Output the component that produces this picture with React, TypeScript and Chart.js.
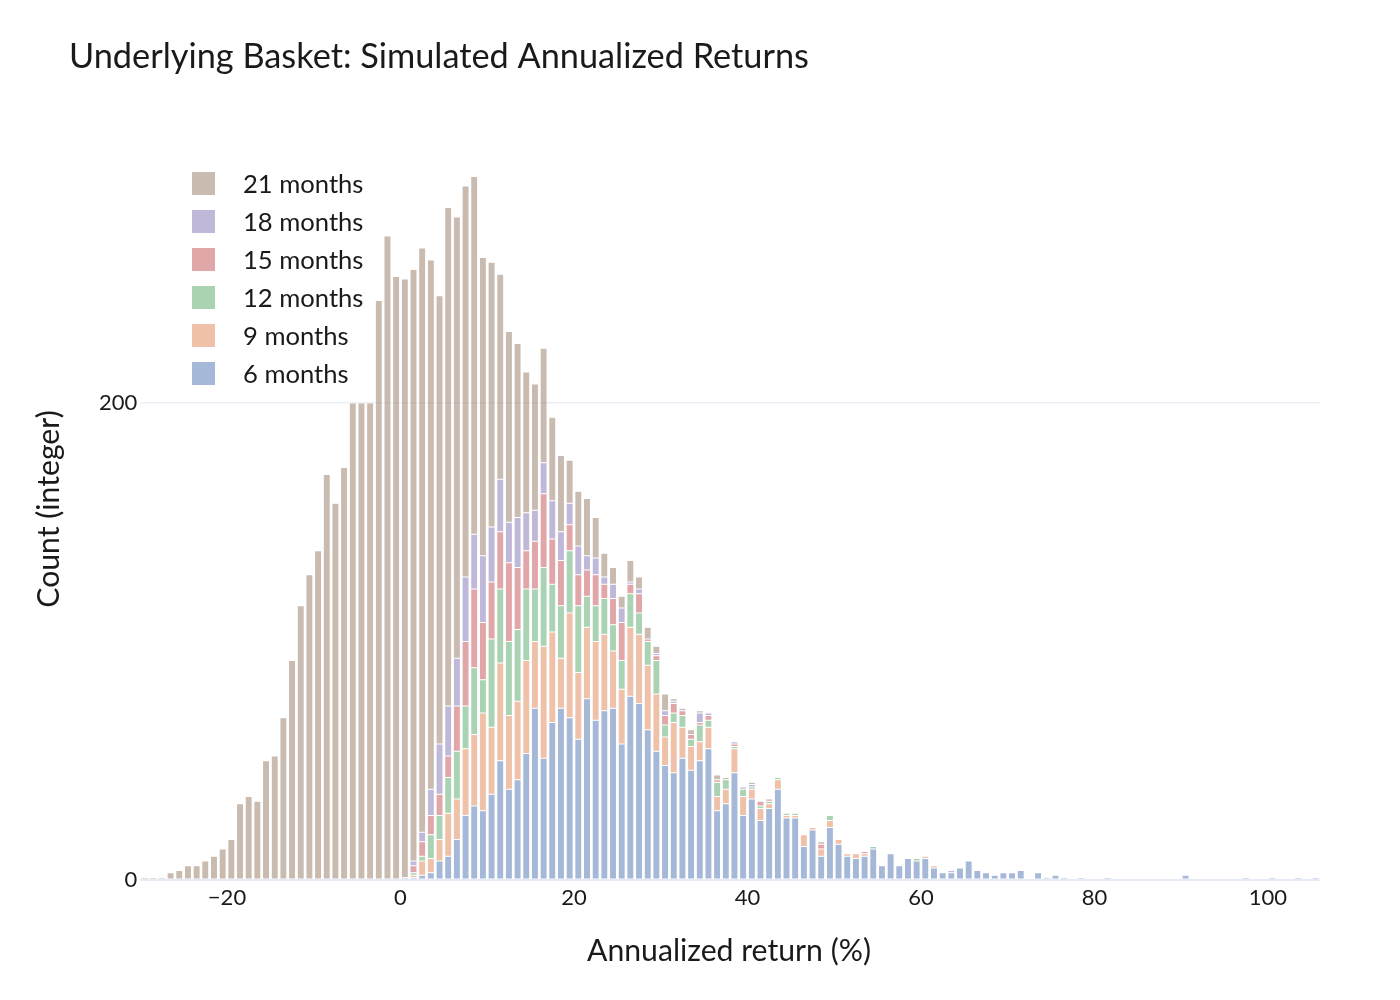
import { useEffect, useRef } from 'react';
import { Chart, ChartConfiguration, Plugin, registerables } from 'chart.js';

Chart.register(...registerables);

const TITLE = 'Underlying Basket: Simulated Annualized Returns';
const X_TITLE = 'Annualized return (%)';
const Y_TITLE = 'Count (integer)';
const FONT = 'Lato, "Noto Sans", sans-serif';

// histogram bins are 1 % wide; axis spans the outer bin edges
const BIN_WIDTH = 1;
const X_MIN = -30;
const X_MAX = 106;
const Y_MAX = 300;
const X_TICKS = [-20, 0, 20, 40, 60, 80, 100];
const Y_TICKS = [0, 200];

// counts per bin, each list starts at the bin centre given by its *_START
const M6_START = 1.5;
const M6 = [
  1, 2, 3, 8, 10, 17, 27, 31, 29, 36, 50, 38, 42, 53, 72, 51, 66, 72, 68, 59,
  76, 67, 71, 72, 57, 77, 74, 63, 54, 48, 45, 51, 46, 50, 55, 29, 32, 45, 27, 34,
  25, 30, 38, 26, 26, 14, 21, 10, 22, 15, 10, 9, 10, 13, 6, 11, 6, 9, 8, 9,
  5, 3, 3, 5, 8, 4, 3, 2, 3, 3, 4, 0, 3, 1, 2, 1, 0, 1, 0, 0,
  1, 0, 0, 0, 0, 0, 0, 0, 0, 2, 0, 0, 0, 0, 0, 0, 1, 0, 0, 1,
  0, 0, 1, 0, 1,
];

const M9_START = 1.5;
const M9 = [
  1, 6, 6, 9, 18, 17, 28, 30, 41, 28, 41, 31, 33, 39, 28, 47, 38, 21, 44, 28,
  30, 33, 32, 24, 23, 29, 29, 27, 24, 12, 21, 13, 10, 8, 9, 6, 6, 10, 8, 4,
  5, 2, 4, 1, 1, 5, 1, 3, 3, 2, 1, 2, 1, 0, 0, 0, 0, 0, 0, 1,
  1,
];

const M12_START = 1.5;
const M12 = [
  1, 2, 10, 10, 15, 20, 18, 28, 14, 37, 31, 31, 30, 30, 22, 33, 20, 22, 26, 28,
  13, 15, 15, 11, 12, 14, 9, 10, 14, 5, 4, 5, 3, 7, 3, 6, 4, 1, 3, 1,
  1, 1, 1, 1, 1, 0, 0, 0, 2, 0, 0, 0, 0, 1, 0, 0, 0, 0, 1,
];

const M15_START = 1.5;
const M15 = [
  3, 6, 8, 9, 9, 19, 27, 33, 24, 24, 24, 33, 26, 16, 20, 31, 19, 19, 11, 13,
  11, 13, 6, 11, 16, 4, 8, 1, 2, 4, 4, 2, 2, 1, 2, 1, 0, 1, 0, 0,
  2, 1, 0, 0, 0, 0, 0, 2, 0, 0, 0, 0, 1,
];

const M18_START = 0.5;
const M18 = [
  1, 2, 4, 11, 21, 21, 20, 27, 23, 28, 23, 22, 17, 21, 16, 13, 13, 16, 12, 9,
  12, 6, 7, 3, 6, 6, 1, 2, 0, 1, 2, 1, 1, 0, 4, 1, 0, 0, 1, 1,
  1, 0, 0, 0, 0, 0, 0, 0, 0, 0, 0, 0, 0, 0, 0, 0, 0, 0, 0, 0,
  0, 0, 0, 1,
];

const M21_START = -29.5;
const M21 = [
  1, 1, 1, 3, 4, 6, 6, 8, 10, 13, 17, 32, 35, 33, 50, 52, 68, 92, 115, 128,
  138, 170, 158, 173, 200, 200, 200, 243, 270, 253, 251, 248, 245, 222, 188, 209, 185, 164, 150, 125,
  111, 86, 80, 73, 59, 53, 48, 35, 32, 18, 23, 24, 17, 10, 7, 5, 9, 5, 5, 3,
  7, 1, 0, 2, 1, 0, 2, 1, 0, 0, 1, 0, 0, 0, 0, 0, 0, 0, 1,
];

const LABELS = ['6 months', '9 months', '12 months', '15 months', '18 months', '21 months'];
const COLORS = [
  'rgba(76, 114, 176, 0.5)',
  'rgba(221, 132, 82, 0.5)',
  'rgba(85, 168, 104, 0.5)',
  'rgba(196, 78, 82, 0.5)',
  'rgba(129, 114, 179, 0.5)',
  'rgba(147, 120, 96, 0.5)',
];

const toPoints = (start: number, counts: number[]) =>
  counts.map((y, i) => ({ x: start + i * BIN_WIDTH, y }));

const SERIES = [
  toPoints(M6_START, M6),
  toPoints(M9_START, M9),
  toPoints(M12_START, M12),
  toPoints(M15_START, M15),
  toPoints(M18_START, M18),
  toPoints(M21_START, M21),
];

// title, axis titles and the in-plot legend
const textPlugin: Plugin = {
  id: 'textOverlay',
  afterDraw(chart) {
    const ctx = chart.ctx;
    ctx.save();
    ctx.fillStyle = '#1a1a1a';

    ctx.font = `34.3px ${FONT}`;
    ctx.textAlign = 'left';
    ctx.textBaseline = 'alphabetic';
    ctx.fillText(TITLE, 69, 68);

    ctx.font = `30.2px ${FONT}`;
    ctx.textAlign = 'center';
    ctx.textBaseline = 'middle';
    ctx.fillText(X_TITLE, 729, 951);

    ctx.save();
    ctx.translate(49, 509);
    ctx.rotate(-Math.PI / 2);
    ctx.fillText(Y_TITLE, 0, 0);
    ctx.restore();

    // legend, top entry = last stacked series
    ctx.font = `25.6px ${FONT}`;
    ctx.textAlign = 'left';
    ctx.textBaseline = 'alphabetic';
    const items = chart.data.datasets.slice().reverse();
    items.forEach((ds, i) => {
      const top = 172 + i * 38;
      ctx.fillStyle = ds.backgroundColor as string;
      ctx.fillRect(192, top, 23, 23);
      ctx.fillStyle = '#1a1a1a';
      ctx.fillText(ds.label ?? '', 243, top + 21);
    });
    ctx.restore();
  },
};

export default function App() {
  const canvasRef = useRef<HTMLCanvasElement>(null);
  const chartRef = useRef<Chart | null>(null);

  useEffect(() => {
    document.body.style.margin = '0';
    if (!canvasRef.current) return;
    if (chartRef.current) chartRef.current.destroy();

    const config: ChartConfiguration = {
      type: 'bar',
      data: {
        datasets: SERIES.map((data, i) => ({
          label: LABELS[i],
          data,
          backgroundColor: COLORS[i],
          borderColor: '#ffffff',
          borderWidth: 0.5,
          borderSkipped: false,
          categoryPercentage: 0.8,
          barPercentage: 1,
        })),
      },
      options: {
        responsive: false,
        animation: false,
        layout: { padding: { top: 164.5, right: 80, left: 0, bottom: 0 } },
        plugins: {
          legend: { display: false },
          tooltip: { enabled: false },
        },
        scales: {
          x: {
            type: 'linear',
            stacked: true,
            min: X_MIN,
            max: X_MAX,
            offset: false,
            grid: { display: false, offset: false },
            border: { display: false },
            afterBuildTicks: (scale) => {
              scale.ticks = X_TICKS.map((value) => ({ value }));
            },
            afterFit: (scale) => {
              scale.height = 120;
            },
            ticks: {
              color: '#1a1a1a',
              font: { family: FONT, size: 22 },
              padding: -3,
              maxRotation: 0,
              callback: (v) => String(v).replace('-', '\u2212'),
            },
          },
          y: {
            type: 'linear',
            stacked: true,
            min: 0,
            max: Y_MAX,
            border: { display: false },
            afterBuildTicks: (scale) => {
              scale.ticks = Y_TICKS.map((value) => ({ value }));
            },
            afterFit: (scale) => {
              scale.width = 140.25;
            },
            grid: {
              drawTicks: false,
              color: (c) => (c.tick.value === 0 ? '#e6ebf5' : '#ebeff6'),
              lineWidth: (c) => (c.tick.value === 0 ? 2 : 1.5),
            },
            ticks: {
              color: '#1a1a1a',
              font: { family: FONT, size: 22 },
              padding: 3,
            },
          },
        },
      },
      plugins: [textPlugin],
    };

    chartRef.current = new Chart(canvasRef.current, config);

    return () => {
      if (chartRef.current) {
        chartRef.current.destroy();
        chartRef.current = null;
      }
    };
  }, []);

  return (
    <div style={{ width: 1400, height: 1000, background: '#fff' }}>
      <canvas ref={canvasRef} width={1400} height={1000} style={{ display: 'block' }}></canvas>
    </div>
  );
}
